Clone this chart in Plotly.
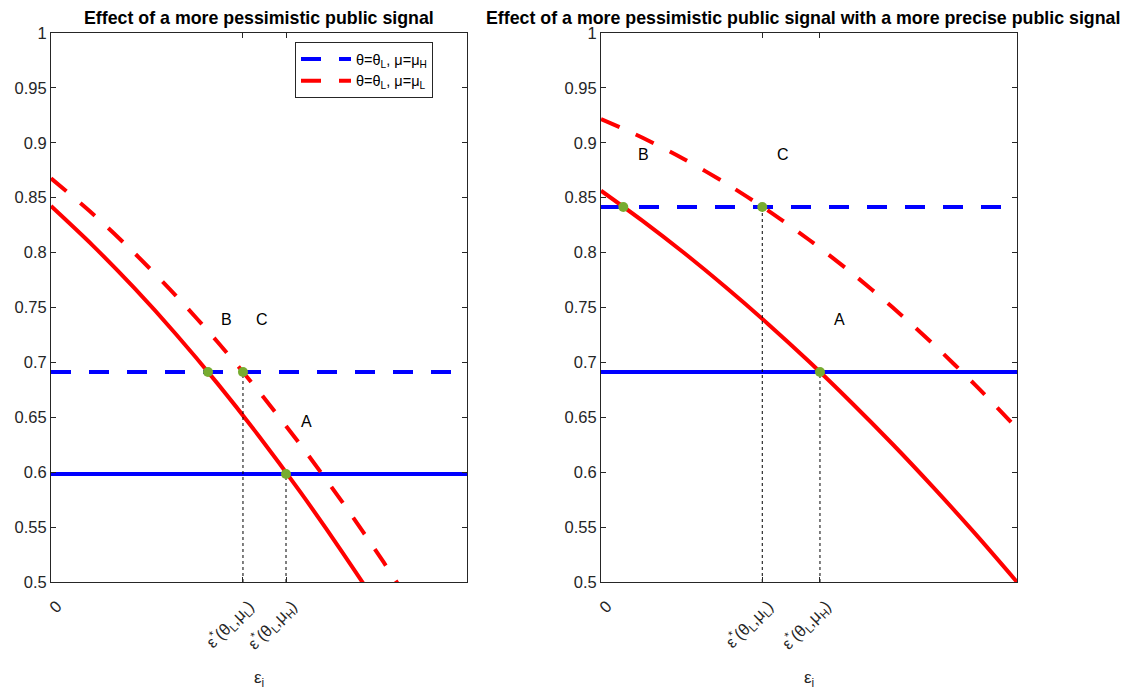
import plotly.graph_objects as go

# ---------------- data ----------------
x_grid = [0.0, 0.1, 0.2, 0.3, 0.4, 0.5, 0.6, 0.7, 0.8, 0.9, 1.0]

# left panel: effect of a more pessimistic public signal
left_red_solid = [0.8424, 0.8066, 0.7678, 0.7259, 0.6809, 0.6328, 0.5816, 0.5273, 0.4700, 0.4090, 0.3450]
left_red_dashed = [0.8677, 0.8354, 0.7998, 0.7609, 0.7188, 0.6734, 0.6248, 0.5729, 0.5178, 0.4593, 0.3980]
left_blue_solid = 0.5984
left_blue_dashed = 0.6913
left_eps_LL = 0.4615
left_eps_LH = 0.5649
left_points_x = [0.3774, 0.4615, 0.5649]
left_points_y = [0.6913, 0.6913, 0.5984]
left_labels = ["B", "C", "A"]
left_labels_x = [0.423, 0.507, 0.613]
left_labels_y = [0.7395, 0.7395, 0.6466]

# right panel: with a more precise public signal
right_red_solid = [0.8564, 0.8289, 0.7996, 0.7684, 0.7355, 0.7008, 0.6642, 0.6259, 0.5857, 0.5438, 0.5000]
right_red_dashed = [0.9217, 0.9046, 0.8851, 0.8631, 0.8387, 0.8117, 0.7823, 0.7504, 0.7161, 0.6793, 0.6400]
right_blue_solid = 0.6913
right_blue_dashed = 0.8415
right_eps_LL = 0.3877
right_eps_LH = 0.5264
right_points_x = [0.0536, 0.3877, 0.5264]
right_points_y = [0.8415, 0.8415, 0.6913]
right_labels = ["B", "C", "A"]
right_labels_x = [0.101, 0.4375, 0.5745]
right_labels_y = [0.8898, 0.8898, 0.7395]

y_ticks = [0.5, 0.55, 0.6, 0.65, 0.7, 0.75, 0.8, 0.85, 0.9, 0.95, 1.0]
y_ticktext = ["0.5", "0.55", "0.6", "0.65", "0.7", "0.75", "0.8", "0.85", "0.9", "0.95", "1"]
x_ticktext = ["0", "ε<sup>*</sup>(θ<sub>L</sub>,μ<sub>L</sub>)", "ε<sup>*</sup>(θ<sub>L</sub>,μ<sub>H</sub>)"]
titles = ["Effect of a more pessimistic public signal",
          "Effect of a more pessimistic public signal with a more precise public signal"]
legend_names = ["θ=θ<sub>L</sub>, μ=μ<sub>H</sub>", "θ=θ<sub>L</sub>, μ=μ<sub>L</sub>"]

# ---------------- styling ----------------
BLUE = "#0000FF"
RED = "#FF0000"
GREEN = "#77AC30"
AXC = "#262626"
FONT = "Liberation Sans, Arial, sans-serif"
LW = 4
DASH = "20px,18px"

W, H = 1134, 692
OFF = 8  # page body margin
dom_left = [(51 - OFF) / W, (467 - OFF) / W]
dom_right = [(601 - OFF) / W, (1017 - OFF) / W]
dom_y = [1 - (582 - OFF) / H, 1 - (33 - OFF) / H]

fig = go.Figure()

panels = [
    dict(xa="x", ya="y", solid=left_red_solid, dashed=left_red_dashed,
         bs=left_blue_solid, bd=left_blue_dashed, eLL=left_eps_LL, eLH=left_eps_LH,
         px=left_points_x, py=left_points_y, lab=left_labels, lx=left_labels_x,
         ly=left_labels_y, legend=True),
    dict(xa="x2", ya="y2", solid=right_red_solid, dashed=right_red_dashed,
         bs=right_blue_solid, bd=right_blue_dashed, eLL=right_eps_LL, eLH=right_eps_LH,
         px=right_points_x, py=right_points_y, lab=right_labels, lx=right_labels_x,
         ly=right_labels_y, legend=False),
]

for p in panels:
    xa, ya = p["xa"], p["ya"]
    fig.add_trace(go.Scatter(x=[x_grid[0], x_grid[-1]], y=[p["bd"], p["bd"]], mode="lines",
                             line=dict(color=BLUE, width=LW, dash=DASH),
                             name=legend_names[0], showlegend=p["legend"], legendrank=1,
                             xaxis=xa, yaxis=ya, hoverinfo="skip"))
    fig.add_trace(go.Scatter(x=[x_grid[0], x_grid[-1]], y=[p["bs"], p["bs"]], mode="lines",
                             line=dict(color=BLUE, width=LW), showlegend=False,
                             xaxis=xa, yaxis=ya, hoverinfo="skip"))
    fig.add_trace(go.Scatter(x=x_grid, y=p["dashed"], mode="lines",
                             line=dict(color=RED, width=LW, dash=DASH, shape="spline", smoothing=0.8),
                             name=legend_names[1], showlegend=p["legend"], legendrank=2,
                             xaxis=xa, yaxis=ya, hoverinfo="skip"))
    fig.add_trace(go.Scatter(x=x_grid, y=p["solid"], mode="lines",
                             line=dict(color=RED, width=LW, shape="spline", smoothing=0.8),
                             showlegend=False,
                             xaxis=xa, yaxis=ya, hoverinfo="skip"))
    fig.add_trace(go.Scatter(x=[p["eLL"], p["eLL"], None, p["eLH"], p["eLH"]],
                             y=[0.5, p["py"][1], None, 0.5, p["py"][2]], mode="lines",
                             line=dict(color="black", width=1, dash="dot"), showlegend=False,
                             xaxis=xa, yaxis=ya, hoverinfo="skip"))
    fig.add_trace(go.Scatter(x=p["px"], y=p["py"], mode="markers",
                             marker=dict(color=GREEN, size=10, line=dict(width=0)),
                             showlegend=False, xaxis=xa, yaxis=ya, hoverinfo="skip"))
    for t, tx, ty in zip(p["lab"], p["lx"], p["ly"]):
        fig.add_annotation(x=tx, y=ty, xref=xa, yref=ya, text=t, showarrow=False,
                           font=dict(family=FONT, size=16, color="black"))

axis_common = dict(showline=True, linecolor=AXC, linewidth=1, mirror="ticks",
                   ticks="inside", ticklen=5, tickcolor=AXC, showgrid=False, zeroline=False,
                   automargin=False)
xtick_extra = dict(tickangle=-45, ticklabelshift=6, ticklabelstandoff=7,
                   tickfont=dict(family=FONT, size=16.5, color=AXC))
ytick_extra = dict(tickfont=dict(family=FONT, size=16.5, color=AXC))

fig.update_layout(
    width=W, height=H, margin=dict(l=0, r=0, t=0, b=0, autoexpand=False),
    plot_bgcolor="white", paper_bgcolor="white",
    xaxis=dict(domain=dom_left, range=[0, 1], tickvals=[0, left_eps_LL, left_eps_LH],
               ticktext=x_ticktext, anchor="y", **xtick_extra, **axis_common),
    yaxis=dict(domain=dom_y, range=[0.5, 1], tickvals=y_ticks, ticktext=y_ticktext,
               anchor="x", **ytick_extra, **axis_common),
    xaxis2=dict(domain=dom_right, range=[0, 1], tickvals=[0, right_eps_LL, right_eps_LH],
                ticktext=x_ticktext, anchor="y2", **xtick_extra, **axis_common),
    yaxis2=dict(domain=dom_y, range=[0.5, 1], tickvals=y_ticks, ticktext=y_ticktext,
                anchor="x2", **ytick_extra, **axis_common),
    legend=dict(x=(433 - OFF) / W, xanchor="right", y=1 - (42 - OFF) / H, yanchor="top",
                bordercolor=AXC, borderwidth=1, bgcolor="white",
                font=dict(family=FONT, size=14.5, color="black"), traceorder="normal",
                tracegroupgap=0, itemwidth=50),
    showlegend=True,
)

title_centers = [(259 - OFF) / W, (803 - OFF) / W]
for dom, cx, t in zip([dom_left, dom_right], title_centers, titles):
    fig.add_annotation(x=cx, y=1, xref="paper", yref="paper",
                       text="<b>" + t + "</b>", showarrow=False,
                       font=dict(family=FONT, size=17.8, color="black"),
                       xanchor="center", yanchor="top", yshift=2)
    fig.add_annotation(x=(dom[0] + dom[1]) / 2, y=1 - (679 - OFF) / H, xref="paper", yref="paper",
                       text="ε<sub>i</sub>", showarrow=False,
                       font=dict(family=FONT, size=17, color=AXC),
                       xanchor="center", yanchor="middle")

fig.write_html("out.html")
